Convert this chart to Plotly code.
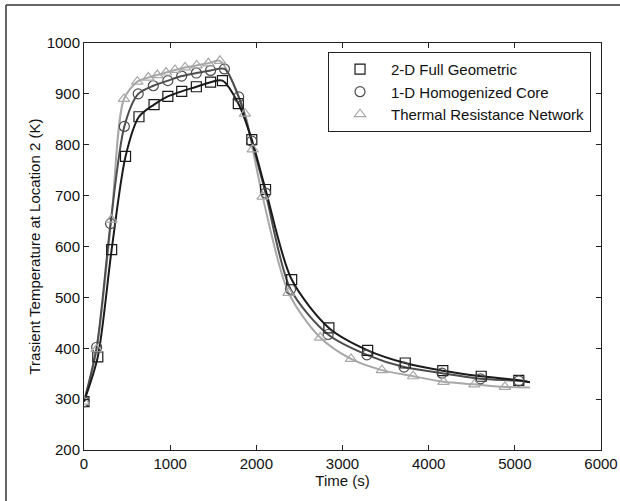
import plotly.graph_objects as go

# ---- data ----
t_full = [0, 160, 321, 482, 638, 813, 973, 1134, 1304, 1469, 1607, 1791, 1947, 2107, 2410, 2842, 3292, 3728, 4164, 4610, 5046, 5175]
T_full = [295, 383, 594, 777, 855, 879, 895, 905, 914, 923, 926, 881, 810, 712, 535, 440, 396, 371, 356, 345, 337, 333]
full_mark_n = 21  # last point is line end only

t_homo = [0, 147, 308, 468, 629, 804, 973, 1134, 1304, 1469, 1630, 1795, 1947, 2107, 2397, 2833, 3283, 3714, 4155, 4600, 5046, 5175]
T_homo = [295, 402, 645, 836, 900, 916, 926, 935, 941, 946, 949, 894, 807, 705, 516, 427, 387, 363, 351, 340, 336, 333]
homo_mark_n = 21

t_trn = [0, 147, 317, 464, 619, 746, 851, 952, 1056, 1172, 1307, 1443, 1578, 1868, 1958, 2073, 2374, 2741, 3099, 3457, 3820, 4173, 4531, 4885, 5175]
T_trn = [295, 398, 653, 890, 924, 932, 937, 942, 947, 952, 956, 960, 965, 861, 791, 698, 509, 421, 379, 357, 345, 334, 329, 324, 323]
trn_mark_n = 24

names = ["2-D Full Geometric", "1-D Homogenized Core", "Thermal Resistance Network"]
x_ticks = [0, 1000, 2000, 3000, 4000, 5000, 6000]
y_ticks = [200, 300, 400, 500, 600, 700, 800, 900, 1000]

series = [
    (t_full, T_full, full_mark_n, "#1a1a1a", "square-open", names[0]),
    (t_homo, T_homo, homo_mark_n, "#4d4d4d", "circle-open", names[1]),
    (t_trn, T_trn, trn_mark_n, "#a8a8a8", "triangle-up-open", names[2]),
]

FONT = "Liberation Sans, Arial"

fig = go.Figure()
for t, T, n, col, sym, nm in reversed(series):
    fig.add_trace(go.Scatter(x=t, y=T, mode="lines", line=dict(color=col, width=2, shape="spline", smoothing=0.8),
                             showlegend=False, hoverinfo="skip"))
for t, T, n, col, sym, nm in series:
    fig.add_trace(go.Scatter(x=t[:n], y=T[:n], mode="markers", name=nm,
                             marker=dict(symbol=sym, size=10, color=col, line=dict(color=col, width=1.2))))

axis_common = dict(showgrid=False, zeroline=False, showline=True, linecolor="#222222", linewidth=1,
                   mirror="ticks", ticks="inside", ticklen=5, tickcolor="#222222", automargin=False,
                   tickfont=dict(family=FONT, size=15, color="#111111"))

fig.update_xaxes(range=[0, 6000], tickvals=x_ticks, ticktext=[str(v) for v in x_ticks],
                 title=dict(text="Time (s)", font=dict(family=FONT, size=15, color="#111111"), standoff=2),
                 **axis_common)
fig.update_yaxes(range=[200, 1000], tickvals=y_ticks, ticktext=[str(v) for v in y_ticks],
                 title=dict(text="Trasient Temperature at Location 2 (K)", font=dict(family=FONT, size=15, color="#111111"), standoff=2),
                 **axis_common)

fig.update_layout(
    width=620, height=501,
    margin=dict(l=84, r=19, t=43, b=51),
    plot_bgcolor="white", paper_bgcolor="white",
    legend=dict(x=0.472, y=0.978, xanchor="left", yanchor="top",
                bordercolor="#222222", borderwidth=1, bgcolor="white",
                font=dict(family=FONT, size=15, color="#111111"),
                itemwidth=52, tracegroupgap=0),
    shapes=[
        dict(type="line", xref="paper", yref="paper", x0=-0.1509, x1=1.1, y0=1.0934, y1=1.0934,
             line=dict(color="#333333", width=1.5), layer="below"),
        dict(type="line", xref="paper", yref="paper", x0=-0.1509, x1=-0.1509, y0=-0.3, y1=1.0934,
             line=dict(color="#333333", width=1.5), layer="below"),
    ],
)

fig.write_html("out.html")
